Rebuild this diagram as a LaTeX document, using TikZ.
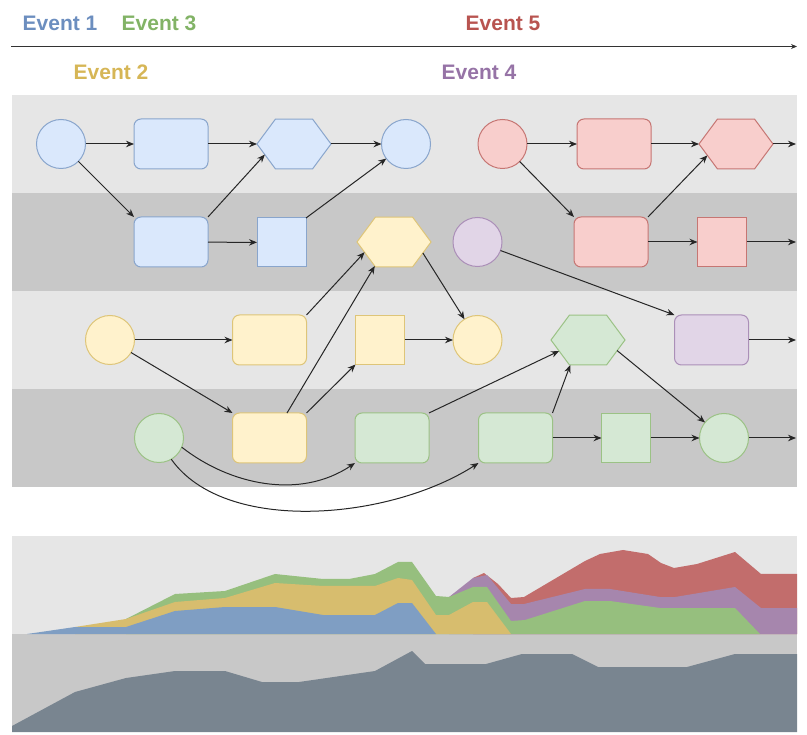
\documentclass[tikz,border=0pt]{standalone}
\usepackage{fontspec}
\setmainfont{Liberation Sans}
\usetikzlibrary{arrows.meta,shapes.geometric}

% lane and node colours
\definecolor{bandA}{HTML}{E6E6E6}
\definecolor{bandB}{HTML}{C8C8C8}
\definecolor{blueF}{HTML}{DAE8FC}\definecolor{blueS}{HTML}{6C8EBF}
\definecolor{yelF}{HTML}{FFF2CC}\definecolor{yelS}{HTML}{D6B656}
\definecolor{grnF}{HTML}{D5E8D4}\definecolor{grnS}{HTML}{82B366}
\definecolor{redF}{HTML}{F8CECC}\definecolor{redS}{HTML}{B85450}
\definecolor{purF}{HTML}{E1D5E7}\definecolor{purS}{HTML}{9673A6}
% area chart colours
\definecolor{chBlue}{HTML}{7F9EC3}
\definecolor{chYel}{HTML}{D7BD6E}
\definecolor{chGrn}{HTML}{96BF7E}
\definecolor{chPur}{HTML}{A686AD}
\definecolor{chRed}{HTML}{C26D6C}
\definecolor{chSlate}{HTML}{798590}

\tikzset{
  shp/.style={line width=1pt, inner sep=0pt, outer sep=0pt},
  rbox/.style={shp, rectangle, rounded corners=7pt, minimum width=74pt, minimum height=50pt},
  sbox/.style={shp, rectangle, minimum width=49pt, minimum height=49pt},
  cbox/.style={shp, circle, minimum size=49pt},
  hbox/.style={shp, regular polygon, regular polygon sides=6, minimum size=74pt, yscale=0.78, transform shape},
  evA/.style={fill=blueF, draw=blueS!80!white},
  evB/.style={fill=yelF, draw=yelS!80!white},
  evC/.style={fill=grnF, draw=grnS!80!white},
  evD/.style={fill=purF, draw=purS!80!white},
  evE/.style={fill=redF, draw=redS!80!white},
  arr/.style={draw=black!85, line width=1pt, -{Stealth[length=8pt,width=6.5pt]}},
  lbl/.style={font=\fontsize{21}{25}\selectfont\bfseries, inner sep=0pt},
}

\begin{document}
\begin{tikzpicture}[x=1pt,y=-1pt]
\useasboundingbox (0,0) rectangle (807,735);

% timeline with event labels
\coordinate (t0) at (11,46.5);
\coordinate (t1) at (797,46.5);
\draw[line width=0.8pt, black!80, -{Stealth[length=6pt,width=5pt]}] (t0) -- (t1);
\node[lbl, text=blueS] (e1) at (60,23) {Event 1};
\node[lbl, text=grnS] (e3) at (159,23) {Event 3};
\node[lbl, text=redS] (e5) at (503,23) {Event 5};
\node[lbl, text=yelS] (e2) at (111,72) {Event 2};
\node[lbl, text=purS] (e4) at (479,72) {Event 4};

% swim lanes
\fill[bandA] (12,95) rectangle (797,193);
\fill[bandB] (12,193) rectangle (797,291);
\fill[bandA] (12,291) rectangle (797,389);
\fill[bandB] (12,389) rectangle (797,487);

% row 1
\node[cbox,evA] (bc1) at (61,144) {};
\node[rbox,evA] (br1) at (171,144) {};
\node[hbox,evA] (bh) at (294,144) {};
\node[cbox,evA] (bc2) at (406,144) {};
\node[cbox,evE] (rc1) at (502.5,144) {};
\node[rbox,evE] (rr1) at (614,144) {};
\node[hbox,evE] (rh) at (736,144) {};
% row 2
\node[rbox,evA] (br2) at (171,242) {};
\node[sbox,evA] (bs) at (281.5,242.5) {};
\node[hbox,evB] (yh) at (394,242) {};
\node[cbox,evD] (pc) at (477.5,242) {};
\node[rbox,evE] (rr2) at (611,242) {};
\node[sbox,evE] (rs) at (722,242) {};
% row 3
\node[cbox,evB] (yc1) at (110,340) {};
\node[rbox,evB] (yr1) at (269.5,340) {};
\node[sbox,evB] (ys) at (380,340) {};
\node[cbox,evB] (yc2) at (477.5,340) {};
\node[hbox,evC] (gh) at (588,340) {};
\node[rbox,evD] (pr) at (711.5,340) {};
% row 4
\node[cbox,evC] (gc1) at (159,438) {};
\node[rbox,evB] (yr2) at (269.5,438) {};
\node[rbox,evC] (gr1) at (392,438) {};
\node[rbox,evC] (gr2) at (515.5,438) {};
\node[sbox,evC] (gs) at (626,438) {};
\node[cbox,evC] (gc2) at (724,438) {};

% loose ends on the right border
\coordinate (rhout) at (796,144);
\coordinate (rsout) at (796,242);
\coordinate (prout) at (796,340);
\coordinate (gcout) at (796,438);

% event 1 flow
\draw[arr] (bc1) -- (br1);
\draw[arr] (br1) -- (bh);
\draw[arr] (bh) -- (bc2);
\draw[arr] (bc1) -- (br2.north west);
\draw[arr] (br2.north east) -- (bh.205);
\draw[arr] (br2) -- (bs);
\draw[arr] (bs.north east) -- (bc2);
% event 5 flow
\draw[arr] (rc1) -- (rr1);
\draw[arr] (rr1) -- (rh);
\draw[arr] (rh) -- (rhout);
\draw[arr] (rc1) -- (rr2.north west);
\draw[arr] (rr2.north east) -- (rh.207);
\draw[arr] (rr2) -- (rs);
\draw[arr] (rs) -- (rsout);
% event 2 flow
\draw[arr] (yc1) -- (yr1);
\draw[arr] (yc1) -- (yr2.north west);
\draw[arr] (yr1.north east) -- (yh.204);
\draw[arr] (yr2.55) -- (yh.238);
\draw[arr] (yr2.north east) -- (ys.south west);
\draw[arr] (ys) -- (yc2);
\draw[arr] (yh.-26) -- (yc2);
% event 4 flow
\draw[arr] (pc) -- (pr.north west);
\draw[arr] (pr) -- (prout);
% event 3 flow
\draw[arr] (gc1.-22) .. controls (230,485) and (300,500) .. (gr1.south west);
\draw[arr] (gc1.-60) .. controls (225,535) and (390,520) .. (gr2.south west);
\draw[arr] (gr1.north east) -- (gh.206);
\draw[arr] (gr2.north east) -- (gh.241);
\draw[arr] (gr2) -- (gs);
\draw[arr] (gs) -- (gc2);
\draw[arr] (gh.-25) -- (gc2);
\draw[arr] (gc2) -- (gcout);

% stacked area chart panels
\fill[bandA] (12,536) rectangle (797,634);
\fill[bandB] (12,634) rectangle (797,732);

% stacked layers, back to front
\fill[chRed] (473,634) -- (473,578) -- (484,573) -- (498,584) -- (511,598) -- (524,597)
  -- (585,561) -- (600,554) -- (623,550) -- (648,554) -- (661,563) -- (674,568)
  -- (697,564) -- (735,552) -- (761,574) -- (797,574) -- (797,634) -- cycle;
\fill[chPur] (449,634) -- (449,597) -- (473,578) -- (487,575) -- (511,604) -- (524,604)
  -- (585,589) -- (610,589) -- (660,597) -- (675,597) -- (735,587) -- (761,608)
  -- (797,608) -- (797,634) -- cycle;
\fill[chGrn] (126,634) -- (126,619) -- (175,594) -- (225,591) -- (275,574) -- (323,579)
  -- (349,579) -- (375,574) -- (398,562) -- (412,562) -- (436,596) -- (449,597)
  -- (473,587) -- (487,587) -- (511,621) -- (525,620) -- (585,601) -- (610,601)
  -- (660,608) -- (735,608) -- (760,634) -- cycle;
\fill[chYel] (75,634) -- (75,627) -- (126,619) -- (175,602) -- (225,598) -- (275,583)
  -- (323,586) -- (375,586) -- (398,578) -- (412,580) -- (436,615) -- (449,615)
  -- (473,602) -- (487,602) -- (511,634) -- cycle;
\fill[chBlue] (27,634) -- (75,627) -- (126,627) -- (175,611) -- (225,607) -- (275,607)
  -- (323,615) -- (375,615) -- (398,603) -- (412,603) -- (436,634) -- cycle;

% total level below the axis
\fill[chSlate] (12,732) -- (12,726) -- (75,692) -- (126,678) -- (175,671) -- (225,671)
  -- (262,682) -- (299,682) -- (375,671) -- (412,651) -- (425,664) -- (486,664)
  -- (522,654) -- (572,654) -- (598,667) -- (687,667) -- (735,654) -- (797,654)
  -- (797,732) -- cycle;
\end{tikzpicture}
\end{document}
